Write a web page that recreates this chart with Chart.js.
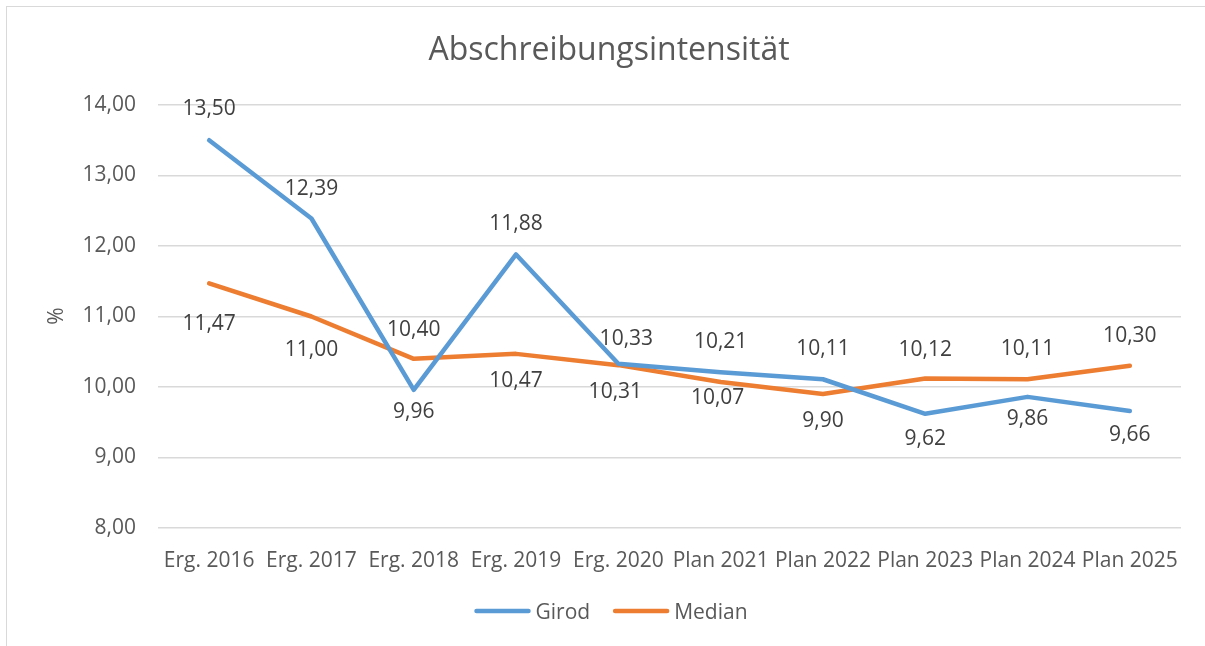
<!DOCTYPE html>
<html>
<head>
<meta charset="utf-8">
<script src="https://cdn.jsdelivr.net/npm/chart.js@4"></script>
<style>
  html, body { margin: 0; padding: 0; background: #fff; }
  #wrap { position: relative; width: 1205px; height: 646px; }
  #frame { position: absolute; left: 6px; top: 6px; width: 1300px; height: 700px;
           border-left: 1px solid #d9d9d9; border-top: 1px solid #d9d9d9; pointer-events: none; }
</style>
</head>
<body>
<div id="wrap">
  <canvas id="chart" width="1205" height="646"></canvas>
  <div id="frame"></div>
</div>
<script>
const chartTitle = 'Abschreibungsintensität';
const yTitle = '%';
const categories = ['Erg. 2016', 'Erg. 2017', 'Erg. 2018', 'Erg. 2019', 'Erg. 2020',
  'Plan 2021', 'Plan 2022', 'Plan 2023', 'Plan 2024', 'Plan 2025'];
const girodValues = [13.50, 12.39, 9.96, 11.88, 10.33, 10.21, 10.11, 9.62, 9.86, 9.66];
const medianValues = [11.47, 11.00, 10.40, 10.47, 10.31, 10.07, 9.90, 10.12, 10.11, 10.30];
const yMin = 8;
const yMax = 14;
const yStep = 1;

// label placement relative to the point (px)
const girodLabelDy = [-33, -31, 20, -32, -27, -32, -32, 23, 20, 22];
const girodLabelDx = [0, 0, 0, 0, 8, 0, 0, 0, 0, 0];
const medianLabelDy = [39, 32, -31, 25, 25, 14, 25, -31, -32, -32];
const medianLabelDx = [0, 0, 0, 0, -3, -3, 0, 0, 0, 0];

const FONT = '"Open Sans", sans-serif';
const BLUE = '#5b9bd5';
const ORANGE = '#ed7d31';

function fmt(v) {
  return v.toFixed(2).replace('.', ',');
}

const decorations = {
  id: 'decorations',
  afterDatasetsDraw(chart) {
    const ctx = chart.ctx;
    ctx.save();

    // data labels (middle baseline sits a bit high for digits)
    ctx.font = '21px ' + FONT;
    ctx.fillStyle = '#404040';
    ctx.textAlign = 'center';
    ctx.textBaseline = 'middle';
    chart.data.datasets.forEach((ds, i) => {
      const meta = chart.getDatasetMeta(i);
      meta.data.forEach((pt, j) => {
        ctx.fillText(fmt(ds.data[j]), pt.x + ds.labelDx[j], pt.y + ds.labelDy[j] + 2);
      });
    });

    // title
    ctx.font = '32px ' + FONT;
    ctx.fillStyle = '#595959';
    ctx.fillText(chartTitle, 609, 51);

    // y axis title
    ctx.save();
    ctx.translate(57, 316);
    ctx.rotate(-Math.PI / 2);
    ctx.font = '21px ' + FONT;
    ctx.fillText(yTitle, 0, 0);
    ctx.restore();

    // legend
    ctx.font = '21px ' + FONT;
    ctx.textAlign = 'left';
    const lineLen = 56, gap = 5, itemGap = 23;
    const items = chart.data.datasets.map(ds => ({ text: ds.label, color: ds.borderColor, w: ctx.measureText(ds.label).width }));
    let total = 0;
    items.forEach((it, k) => { total += lineLen + gap + it.w + (k ? itemGap : 0); });
    let x = 611 - total / 2;
    const y = 611;
    ctx.lineCap = 'round';
    ctx.lineWidth = 4.5;
    items.forEach(it => {
      ctx.strokeStyle = it.color;
      ctx.beginPath();
      ctx.moveTo(x + 2, y);
      ctx.lineTo(x + lineLen - 2, y);
      ctx.stroke();
      ctx.fillStyle = '#595959';
      ctx.fillText(it.text, x + lineLen + gap, y + 2);
      x += lineLen + gap + it.w + itemGap;
    });

    ctx.restore();
  }
};

new Chart(document.getElementById('chart'), {
  type: 'line',
  data: {
    labels: categories,
    datasets: [{
      label: 'Girod',
      data: girodValues,
      borderColor: BLUE,
      labelDx: girodLabelDx,
      labelDy: girodLabelDy
    }, {
      label: 'Median',
      data: medianValues,
      borderColor: ORANGE,
      labelDx: medianLabelDx,
      labelDy: medianLabelDy
    }]
  },
  options: {
    responsive: false,
    animation: false,
    layout: { padding: { left: 0, top: 105, right: 24, bottom: 68 } },
    elements: {
      line: { borderWidth: 4.5, tension: 0, borderCapStyle: 'round', borderJoinStyle: 'round', fill: false },
      point: { radius: 0, hoverRadius: 0 }
    },
    plugins: {
      legend: { display: false },
      title: { display: false },
      tooltip: { enabled: false }
    },
    scales: {
      x: {
        offset: true,
        grid: { display: false },
        border: { display: false },
        ticks: { color: '#595959', font: { family: FONT, size: 21 }, padding: 12, maxRotation: 0, autoSkip: false },
        afterFit(scale) { scale.height = 50; }
      },
      y: {
        min: yMin,
        max: yMax,
        grid: { color: '#d9d9d9', lineWidth: 1.5, drawTicks: false },
        border: { display: false },
        ticks: {
          stepSize: yStep,
          color: '#595959',
          font: { family: FONT, size: 21 },
          padding: 22,
          callback: v => fmt(v)
        },
        afterFit(scale) { scale.width = 158; }
      }
    }
  },
  plugins: [decorations]
});
</script>
</body>
</html>
